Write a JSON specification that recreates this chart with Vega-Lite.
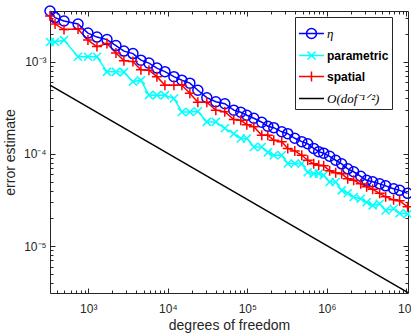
{
  "$schema": "https://vega.github.io/schema/vega-lite/v6.json",
  "width": 358,
  "height": 282,
  "autosize": {"type": "none"},
  "padding": {"left": 50, "top": 11, "right": 3, "bottom": 40},
  "background": "white",
  "config": {
    "view": {"stroke": null},
    "axis": {
      "labelFont": "Liberation Sans", "labelFontSize": 12, "labelColor": "#262626",
      "titleFont": "Liberation Sans", "titleFontSize": 14, "titleFontWeight": "normal", "titleColor": "#262626",
      "domainColor": "#262626", "tickColor": "#262626", "grid": false
    },
    "legend": {
      "orient": "none", "legendX": 245, "legendY": 6, "title": null, "fillColor": "white", "strokeColor": "#262626", "padding": 3,
      "symbolSize": 625, "symbolStrokeWidth": 1.5, "labelFontSize": 12, "labelOffset": 2, "rowPadding": -2, "labelColor": "#000000"
    }
  },
  "datasets": {
    "err": [
      {"dof": 330, "eta": 3.56e-3, "parametric": 1.64e-3, "spatial": 3.14e-3},
      {"dof": 382, "eta": 3.02e-3, "parametric": 1.64e-3, "spatial": 2.57e-3},
      {"dof": 495, "eta": 2.77e-3, "parametric": 1.72e-3, "spatial": 2.24e-3},
      {"dof": 743, "eta": 2.57e-3, "parametric": 1.133e-3, "spatial": 2.265e-3},
      {"dof": 990, "eta": 2.05e-3, "parametric": 1.133e-3, "spatial": 1.72e-3},
      {"dof": 1286, "eta": 1.855e-3, "parametric": 1.133e-3, "spatial": 1.462e-3},
      {"dof": 1718, "eta": 1.743e-3, "parametric": 7.78e-4, "spatial": 1.578e-3},
      {"dof": 2228, "eta": 1.5e-3, "parametric": 7.78e-4, "spatial": 1.244e-3},
      {"dof": 2806, "eta": 1.307e-3, "parametric": 7.73e-4, "spatial": 1.03e-3},
      {"dof": 3646, "eta": 1.228e-3, "parametric": 6.07e-4, "spatial": 1.005e-3},
      {"dof": 4592, "eta": 1.043e-3, "parametric": 6.32e-4, "spatial": 8.22e-4},
      {"dof": 5794, "eta": 9.68e-4, "parametric": 4.35e-4, "spatial": 8.12e-4},
      {"dof": 7295, "eta": 8.55e-4, "parametric": 4.35e-4, "spatial": 6.9e-4},
      {"dof": 9204, "eta": 7.82e-4, "parametric": 4.35e-4, "spatial": 5.58e-4},
      {"dof": 11940, "eta": 6.9e-4, "parametric": 4.0e-4, "spatial": 5.58e-4},
      {"dof": 15030, "eta": 6.32e-4, "parametric": 2.86e-4, "spatial": 5.58e-4},
      {"dof": 18950, "eta": 5.87e-4, "parametric": 2.86e-4, "spatial": 4.57e-4},
      {"dof": 23880, "eta": 4.92e-4, "parametric": 2.91e-4, "spatial": 3.65e-4},
      {"dof": 30970, "eta": 4.08e-4, "parametric": 2.23e-4, "spatial": 3.65e-4},
      {"dof": 40180, "eta": 3.69e-4, "parametric": 2.23e-4, "spatial": 2.99e-4},
      {"dof": 52120, "eta": 3.51e-4, "parametric": 1.9e-4, "spatial": 2.88e-4},
      {"dof": 67610, "eta": 2.99e-4, "parametric": 1.66e-4, "spatial": 2.36e-4},
      {"dof": 82790, "eta": 2.84e-4, "parametric": 1.47e-4, "spatial": 2.32e-4},
      {"dof": 98600, "eta": 2.63e-4, "parametric": 1.47e-4, "spatial": 2.08e-4},
      {"dof": 120800, "eta": 2.44e-4, "parametric": 1.19e-4, "spatial": 1.98e-4},
      {"dof": 152100, "eta": 2.21e-4, "parametric": 1.19e-4, "spatial": 1.6e-4},
      {"dof": 181100, "eta": 2.0e-4, "parametric": 1.04e-4, "spatial": 1.6e-4},
      {"dof": 215300, "eta": 1.93e-4, "parametric": 9.68e-5, "spatial": 1.41e-4},
      {"dof": 271000, "eta": 1.74e-4, "parametric": 9.68e-5, "spatial": 1.36e-4},
      {"dof": 322800, "eta": 1.66e-4, "parametric": 7.87e-5, "spatial": 1.15e-4},
      {"dof": 395400, "eta": 1.48e-4, "parametric": 7.87e-5, "spatial": 1.08e-4},
      {"dof": 484200, "eta": 1.36e-4, "parametric": 7.87e-5, "spatial": 9.68e-5},
      {"dof": 575400, "eta": 1.29e-4, "parametric": 6.32e-5, "spatial": 8.55e-5},
      {"dof": 684000, "eta": 1.15e-4, "parametric": 6.12e-5, "spatial": 7.82e-5},
      {"dof": 790700, "eta": 1.06e-4, "parametric": 6.12e-5, "spatial": 7.54e-5},
      {"dof": 914200, "eta": 1.02e-4, "parametric": 5.87e-5, "spatial": 7.45e-5},
      {"dof": 1086000, "eta": 9.44e-5, "parametric": 4.96e-5, "spatial": 6.57e-5},
      {"dof": 1294000, "eta": 8.55e-5, "parametric": 4.96e-5, "spatial": 6.25e-5},
      {"dof": 1538000, "eta": 7.82e-5, "parametric": 4.03e-5, "spatial": 6.1e-5},
      {"dof": 1832000, "eta": 6.9e-5, "parametric": 3.74e-5, "spatial": 5.37e-5},
      {"dof": 2178000, "eta": 6.41e-5, "parametric": 3.41e-5, "spatial": 5.18e-5},
      {"dof": 2667000, "eta": 5.73e-5, "parametric": 3.27e-5, "spatial": 4.74e-5},
      {"dof": 3170000, "eta": 5.18e-5, "parametric": 2.99e-5, "spatial": 4.4e-5},
      {"dof": 3776000, "eta": 4.99e-5, "parametric": 2.77e-5, "spatial": 4.13e-5},
      {"dof": 4624000, "eta": 4.74e-5, "parametric": 2.88e-5, "spatial": 3.74e-5},
      {"dof": 5495000, "eta": 4.51e-5, "parametric": 2.44e-5, "spatial": 3.43e-5},
      {"dof": 6918000, "eta": 4.19e-5, "parametric": 2.54e-5, "spatial": 3.18e-5},
      {"dof": 8241000, "eta": 4.03e-5, "parametric": 2.27e-5, "spatial": 3.1e-5},
      {"dof": 10380000, "eta": 3.74e-5, "parametric": 2.24e-5, "spatial": 2.67e-5}
    ],
    "ref": [
      {"dof": 330, "value": 5.58e-4, "series": "ref"},
      {"dof": 10500000, "value": 3.13e-6, "series": "ref"}
    ]
  },
  "resolve": {"axis": {"x": "independent", "y": "independent"}},
  "layer": [
    {
      "data": {"name": "err"},
      "transform": [{"fold": ["eta", "parametric", "spatial"], "as": ["series", "value"]}],
      "mark": {"type": "line", "strokeWidth": 1.5},
      "encoding": {
        "x": {"field": "dof", "type": "quantitative",
          "scale": {"type": "log", "domain": [330, 10500000], "nice": false, "zero": false},
          "axis": {"orient": "bottom", "values": [1000, 10000, 100000, 1000000, 10000000], "ticks": false, "labelPadding": 10, "domain": true,
            "labelExpr": "'10' + (round(log(datum.value)/LN10) == 3 ? '³' : round(log(datum.value)/LN10) == 4 ? '⁴' : round(log(datum.value)/LN10) == 5 ? '⁵' : round(log(datum.value)/LN10) == 6 ? '⁶' : '⁷')",
            "title": "degrees of freedom", "titlePadding": 4}},
        "y": {"field": "value", "type": "quantitative",
          "scale": {"type": "log", "domain": [3.1e-6, 3.56e-3], "nice": false, "zero": false},
          "axis": {"orient": "left", "values": [0.00001, 0.0001, 0.001], "ticks": false, "labelPadding": 4, "domain": true,
            "labelExpr": "'10' + (round(log(datum.value)/LN10) == -5 ? '⁻⁵' : round(log(datum.value)/LN10) == -4 ? '⁻⁴' : '⁻³')",
            "title": "error estimate", "titlePadding": 6}},
        "color": {"field": "series", "type": "nominal",
          "scale": {"domain": ["eta", "parametric", "spatial", "ref"], "range": ["#0000ff", "#00ffff", "#ff0000", "#000000"]},
          "legend": {
            "labelExpr": "datum.value === 'eta' ? 'η' : datum.value === 'ref' ? 'O(dof⁻¹ᐟ²)' : '\u00a0' + datum.value",
            "encode": {
              "labels": {"update": {
                "font": {"signal": "datum.value === 'eta' || datum.value === 'ref' ? 'Liberation Serif' : 'Liberation Sans'"},
                "fontStyle": {"signal": "datum.value === 'eta' || datum.value === 'ref' ? 'italic' : 'normal'"},
                "fontWeight": {"signal": "datum.value === 'eta' || datum.value === 'ref' ? 'normal' : 'bold'"},
                "fontSize": {"signal": "datum.value === 'eta' || datum.value === 'ref' ? 13 : 12"}}}
            }}},
        "order": {"field": "dof"}
      }
    },
    {
      "data": {"name": "err"},
      "transform": [{"fold": ["eta", "parametric", "spatial"], "as": ["series", "value"]}, {"filter": "datum.series === 'eta'"}],
      "mark": {"type": "point", "filled": false, "strokeWidth": 1.5, "size": 100, "opacity": 1, "shape": "circle"},
      "encoding": {
        "x": {"field": "dof", "type": "quantitative",
          "scale": {"type": "log", "domain": [330, 10500000], "nice": false, "zero": false},
          "axis": {"orient": "bottom", "labels": false, "domain": false, "title": null,
            "values": [400, 500, 600, 700, 800, 900, 1000, 2000, 3000, 4000, 5000, 6000, 7000, 8000, 9000, 10000, 20000, 30000, 40000, 50000, 60000, 70000, 80000, 90000, 100000, 200000, 300000, 400000, 500000, 600000, 700000, 800000, 900000, 1000000, 2000000, 3000000, 4000000, 5000000, 6000000, 7000000, 8000000, 9000000, 10000000],
            "tickSize": {"condition": {"test": "abs(log(datum.value)/LN10 - round(log(datum.value)/LN10)) < 0.000001", "value": -5}, "value": -3}}},
        "y": {"field": "value", "type": "quantitative",
          "scale": {"type": "log", "domain": [3.1e-6, 3.56e-3], "nice": false, "zero": false},
          "axis": {"orient": "left", "labels": false, "domain": false, "title": null,
            "values": [0.000004, 0.000005, 0.000006, 0.000007, 0.000008, 0.000009, 0.00001, 0.00002, 0.00003, 0.00004, 0.00005, 0.00006, 0.00007, 0.00008, 0.00009, 0.0001, 0.0002, 0.0003, 0.0004, 0.0005, 0.0006, 0.0007, 0.0008, 0.0009, 0.001, 0.002, 0.003],
            "tickSize": {"condition": {"test": "abs(log(datum.value)/LN10 - round(log(datum.value)/LN10)) < 0.000001", "value": -5}, "value": -3}}},
        "color": {"field": "series", "type": "nominal",
          "scale": {"domain": ["eta", "parametric", "spatial", "ref"], "range": ["#0000ff", "#00ffff", "#ff0000", "#000000"]}}
      }
    },
    {
      "data": {"name": "err"},
      "transform": [{"fold": ["eta", "parametric", "spatial"], "as": ["series", "value"]}, {"filter": "datum.series === 'parametric'"}],
      "mark": {"type": "point", "filled": false, "strokeWidth": 1.5, "size": 100, "opacity": 1, "shape": "M-0.8,-0.8L0.8,0.8M-0.8,0.8L0.8,-0.8"},
      "encoding": {
        "x": {"field": "dof", "type": "quantitative", "scale": {"type": "log", "domain": [330, 10500000], "nice": false, "zero": false}, "axis": null},
        "y": {"field": "value", "type": "quantitative", "scale": {"type": "log", "domain": [3.1e-6, 3.56e-3], "nice": false, "zero": false}, "axis": null},
        "color": {"field": "series", "type": "nominal",
          "scale": {"domain": ["eta", "parametric", "spatial", "ref"], "range": ["#0000ff", "#00ffff", "#ff0000", "#000000"]}}
      }
    },
    {
      "data": {"name": "err"},
      "transform": [{"fold": ["eta", "parametric", "spatial"], "as": ["series", "value"]}, {"filter": "datum.series === 'spatial'"}],
      "mark": {"type": "point", "filled": false, "strokeWidth": 1.5, "size": 100, "opacity": 1, "shape": "M-1,0H1M0,-1V1"},
      "encoding": {
        "x": {"field": "dof", "type": "quantitative", "scale": {"type": "log", "domain": [330, 10500000], "nice": false, "zero": false}, "axis": null},
        "y": {"field": "value", "type": "quantitative", "scale": {"type": "log", "domain": [3.1e-6, 3.56e-3], "nice": false, "zero": false}, "axis": null},
        "color": {"field": "series", "type": "nominal",
          "scale": {"domain": ["eta", "parametric", "spatial", "ref"], "range": ["#0000ff", "#00ffff", "#ff0000", "#000000"]}}
      }
    },
    {
      "data": {"name": "ref"},
      "mark": {"type": "line", "strokeWidth": 1.5},
      "encoding": {
        "x": {"field": "dof", "type": "quantitative",
          "scale": {"type": "log", "domain": [330, 10500000], "nice": false, "zero": false},
          "axis": {"orient": "top", "labels": false, "domain": true, "title": null,
            "values": [400, 500, 600, 700, 800, 900, 1000, 2000, 3000, 4000, 5000, 6000, 7000, 8000, 9000, 10000, 20000, 30000, 40000, 50000, 60000, 70000, 80000, 90000, 100000, 200000, 300000, 400000, 500000, 600000, 700000, 800000, 900000, 1000000, 2000000, 3000000, 4000000, 5000000, 6000000, 7000000, 8000000, 9000000, 10000000],
            "tickSize": {"condition": {"test": "abs(log(datum.value)/LN10 - round(log(datum.value)/LN10)) < 0.000001", "value": -5}, "value": -3}}},
        "y": {"field": "value", "type": "quantitative",
          "scale": {"type": "log", "domain": [3.1e-6, 3.56e-3], "nice": false, "zero": false},
          "axis": {"orient": "right", "labels": false, "domain": true, "title": null,
            "values": [0.000004, 0.000005, 0.000006, 0.000007, 0.000008, 0.000009, 0.00001, 0.00002, 0.00003, 0.00004, 0.00005, 0.00006, 0.00007, 0.00008, 0.00009, 0.0001, 0.0002, 0.0003, 0.0004, 0.0005, 0.0006, 0.0007, 0.0008, 0.0009, 0.001, 0.002, 0.003],
            "tickSize": {"condition": {"test": "abs(log(datum.value)/LN10 - round(log(datum.value)/LN10)) < 0.000001", "value": -5}, "value": -3}}},
        "color": {"field": "series", "type": "nominal",
          "scale": {"domain": ["eta", "parametric", "spatial", "ref"], "range": ["#0000ff", "#00ffff", "#ff0000", "#000000"]}}
      }
    },
    {
      "data": {"name": "err"},
      "transform": [{"fold": ["eta", "parametric", "spatial"], "as": ["series", "value"]}, {"filter": "datum.dof < 0"}],
      "mark": {"type": "point", "filled": false, "strokeWidth": 1.5},
      "encoding": {
        "x": {"field": "dof", "type": "quantitative", "scale": {"type": "log", "domain": [330, 10500000], "nice": false, "zero": false}, "axis": null},
        "y": {"field": "value", "type": "quantitative", "scale": {"type": "log", "domain": [3.1e-6, 3.56e-3], "nice": false, "zero": false}, "axis": null},
        "color": {"field": "series", "type": "nominal",
          "scale": {"domain": ["eta", "parametric", "spatial", "ref"], "range": ["#0000ff", "#00ffff", "#ff0000", "#000000"]},
          "legend": {
            "labelExpr": "datum.value === 'eta' ? 'η' : datum.value === 'ref' ? 'O(dof⁻¹ᐟ²)' : '\u00a0' + datum.value",
            "encode": {
              "labels": {"update": {
                "font": {"signal": "datum.value === 'eta' || datum.value === 'ref' ? 'Liberation Serif' : 'Liberation Sans'"},
                "fontStyle": {"signal": "datum.value === 'eta' || datum.value === 'ref' ? 'italic' : 'normal'"},
                "fontWeight": {"signal": "datum.value === 'eta' || datum.value === 'ref' ? 'normal' : 'bold'"},
                "fontSize": {"signal": "datum.value === 'eta' || datum.value === 'ref' ? 13 : 12"}}}
            }}},
        "shape": {"field": "series", "type": "nominal",
          "scale": {"domain": ["eta", "parametric", "spatial", "ref"], "range": ["M-1,0H1M-0.4,0A0.4,0.4 0 1,1 0.4,0A0.4,0.4 0 1,1 -0.4,0", "M-1,0H1M-0.32,-0.32L0.32,0.32M-0.32,0.32L0.32,-0.32", "M-1,0H1M0,-0.4V0.4", "M-1,0H1"]},
          "legend": {
            "labelExpr": "datum.value === 'eta' ? 'η' : datum.value === 'ref' ? 'O(dof⁻¹ᐟ²)' : '\u00a0' + datum.value",
            "encode": {
              "labels": {"update": {
                "font": {"signal": "datum.value === 'eta' || datum.value === 'ref' ? 'Liberation Serif' : 'Liberation Sans'"},
                "fontStyle": {"signal": "datum.value === 'eta' || datum.value === 'ref' ? 'italic' : 'normal'"},
                "fontWeight": {"signal": "datum.value === 'eta' || datum.value === 'ref' ? 'normal' : 'bold'"},
                "fontSize": {"signal": "datum.value === 'eta' || datum.value === 'ref' ? 13 : 12"}}}
            }}}
      }
    }
  ]
}
